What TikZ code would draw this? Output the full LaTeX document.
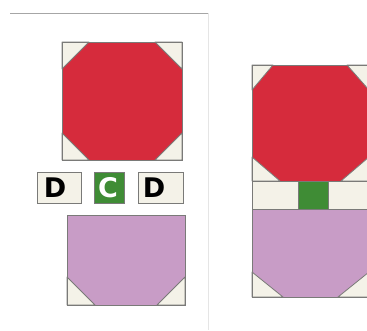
\documentclass[tikz,border=0pt]{standalone}
\usepackage{fontspec}
\setsansfont{DejaVu Sans}
\definecolor{stopred}{HTML}{D62B3C}
\definecolor{lilac}{HTML}{C89CC6}
\definecolor{leaf}{HTML}{3F8C35}
\definecolor{cream}{HTML}{F4F2E8}
\definecolor{edge}{HTML}{7A7A78}
\begin{document}
\begin{tikzpicture}[x=1pt,y=-1pt,
  frame/.style={draw=edge,line width=0.9pt},
  corner/.style={fill=cream,draw=edge,line width=0.8pt,line join=round},
  letter/.style={font=\sffamily\bfseries\fontsize{27}{27}\selectfont,inner sep=0pt}]
\useasboundingbox (0,0) rectangle (367,330);
\fill[white] (0,0) rectangle (367,330);
% card
\draw[black!35,line width=0.7pt] (10,13) -- (208,13);
\draw[black!10,line width=0.6pt] (208,13) -- (208,330);
% left top square with octagon
\fill[stopred] (62,42) rectangle (182,160);
\draw[corner] (62,42) -- (89,42) -- (62,69) -- cycle;
\draw[corner] (182,42) -- (155,42) -- (182,69) -- cycle;
\draw[corner] (62,160) -- (89,160) -- (62,133) -- cycle;
\draw[corner] (182,160) -- (155,160) -- (182,133) -- cycle;
\draw[frame] (62,42) rectangle (182,160);
% row D C D
\draw[frame,fill=cream] (37,172) rectangle (81,203);
\draw[frame,fill=leaf] (94,172) rectangle (124,203);
\draw[frame,fill=cream] (138,172) rectangle (183,203);
\node[letter,text=black] (d1) at (55,188) {D};
\node[letter,text=white] (c1) at (108,188) {C};
\node[letter,text=black] (d2) at (154,188) {D};
% left bottom square
\fill[lilac] (67,215) rectangle (185,305);
\draw[corner] (67,305) -- (95,305) -- (67,277) -- cycle;
\draw[corner] (185,305) -- (157,305) -- (185,277) -- cycle;
\draw[frame] (67,215) rectangle (185,305);
% right panel
\fill[stopred] (252,65) rectangle (369,181);
\draw[corner] (252,65) -- (273,65) -- (252,90) -- cycle;
\draw[corner] (369,65) -- (347,65) -- (369,90) -- cycle;
\draw[corner] (252,181) -- (280,181) -- (252,157) -- cycle;
\draw[corner] (369,181) -- (341,181) -- (369,157) -- cycle;
\fill[cream] (252,181) rectangle (369,209);
\draw[frame,fill=leaf] (298,181) rectangle (328,209);
\fill[lilac] (252,209) rectangle (369,297);
\draw[corner] (252,297) -- (283,297) -- (252,272) -- cycle;
\draw[corner] (369,297) -- (338,297) -- (369,272) -- cycle;
\draw[frame] (252,181) -- (369,181);
\draw[frame] (252,209) -- (369,209);
\draw[frame] (252,65) rectangle (369,297);
\end{tikzpicture}
\end{document}
